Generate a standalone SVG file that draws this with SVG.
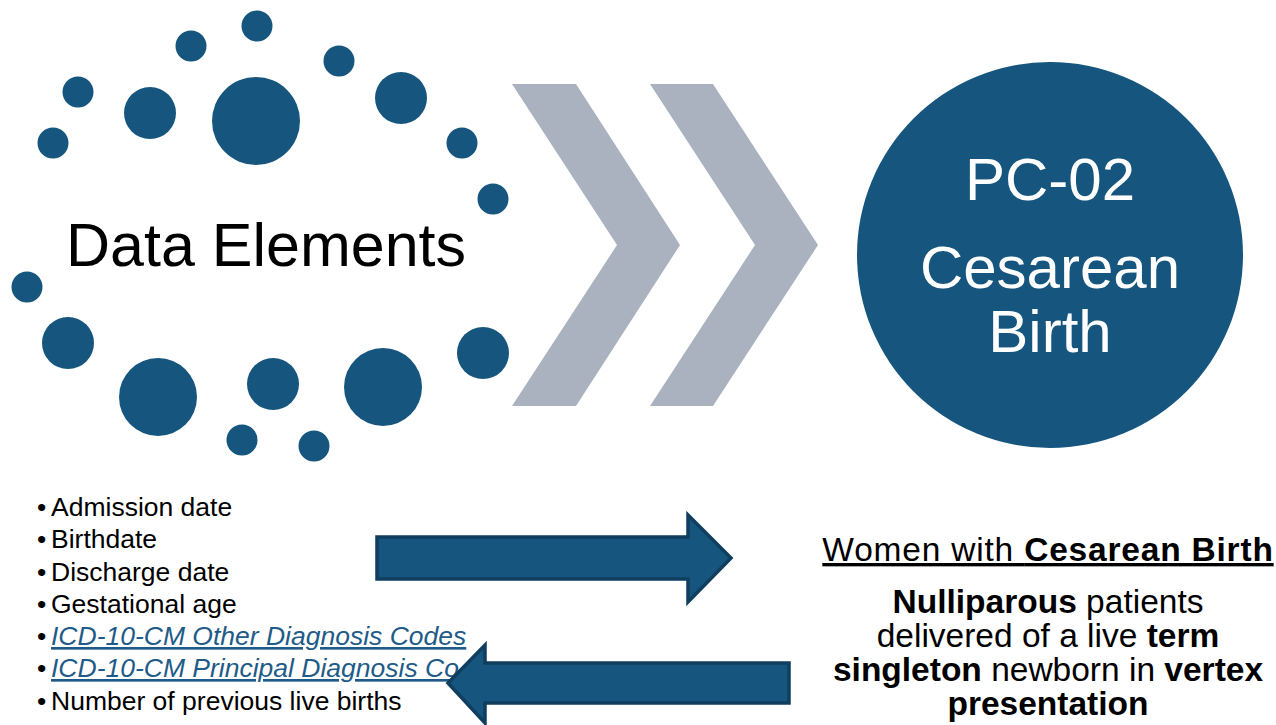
<svg xmlns="http://www.w3.org/2000/svg" width="1276" height="725" viewBox="0 0 1276 725">
<style>
.dot{fill:#16567E}
.chev{fill:#ABB2BF}
.arrow{fill:#16567E;stroke:#0F3E5E;stroke-width:3.5;stroke-linejoin:miter}
.t{font-family:"Liberation Sans",Arial,sans-serif}
.bul{font-family:"Liberation Sans",Arial,sans-serif;font-size:26.5px;fill:#000}
.link{fill:#1F5B88;font-style:italic;text-decoration:underline}
.w{font-family:"Liberation Sans",Arial,sans-serif;fill:#fff;font-size:60px;text-anchor:middle}
.r{font-family:"Liberation Sans",Arial,sans-serif;fill:#000;font-size:33.5px;text-anchor:middle}
</style>
<rect width="1276" height="725" fill="#fff"/>
<g id="data-elements">
<circle class="dot" cx="257" cy="26" r="15.5"/>
<circle class="dot" cx="191" cy="46" r="15.5"/>
<circle class="dot" cx="339" cy="61" r="15.5"/>
<circle class="dot" cx="78" cy="92" r="15.5"/>
<circle class="dot" cx="150" cy="113" r="26"/>
<circle class="dot" cx="256" cy="121" r="44"/>
<circle class="dot" cx="401" cy="98" r="26"/>
<circle class="dot" cx="53" cy="143" r="15.5"/>
<circle class="dot" cx="462" cy="143" r="15.5"/>
<circle class="dot" cx="493" cy="199" r="15.5"/>
<circle class="dot" cx="27" cy="287" r="15.5"/>
<circle class="dot" cx="68" cy="343" r="26"/>
<circle class="dot" cx="158" cy="397" r="39"/>
<circle class="dot" cx="273" cy="384" r="26"/>
<circle class="dot" cx="383" cy="387" r="39"/>
<circle class="dot" cx="483" cy="353" r="26"/>
<circle class="dot" cx="242" cy="440" r="15.5"/>
<circle class="dot" cx="314" cy="446" r="15.5"/>
<text class="t" x="266" y="266" font-size="61" text-anchor="middle" fill="#000">Data Elements</text>
</g>
<g id="chevrons">
<polygon class="chev" points="512,84 576,84 680,245 576,406 512,406 617,245"/>
<polygon class="chev" points="650,84 713,84 818,245 713,406 650,406 755,245"/>
</g>
<g id="pc02">
<circle cx="1050" cy="255" r="193" fill="#16567E"/>
<text class="w" x="1050" y="200">PC-02</text>
<text class="w" x="1050" y="288">Cesarean</text>
<text class="w" x="1050" y="352">Birth</text>
</g>
<g id="element-list">
<text class="bul" x="37" y="516">•<tspan x="51">Admission date</tspan></text>
<text class="bul" x="37" y="548">•<tspan x="51">Birthdate</tspan></text>
<text class="bul" x="37" y="581">•<tspan x="51">Discharge date</tspan></text>
<text class="bul" x="37" y="613">•<tspan x="51">Gestational age</tspan></text>
<text class="bul" x="37" y="645">•<tspan x="51" class="link">ICD-10-CM Other Diagnosis Codes</tspan></text>
<text class="bul" x="37" y="677">•<tspan x="51" class="link">ICD-10-CM Principal Diagnosis Co</tspan></text>
<text class="bul" x="37" y="710">•<tspan x="51">Number of previous live births</tspan></text>
</g>
<g id="connectors">
<polygon class="arrow" points="377,537 688,537 688,515 731,558 688,602 688,579 377,579"/>
<polygon class="arrow" points="789,663 485,663 485,645 448,683 485,723 485,703 789,703"/>
</g>
<g id="definition">
<text class="r" x="1048" y="561" font-size="31" letter-spacing="0.8" text-decoration="underline">Women with <tspan font-weight="bold">Cesarean Birth</tspan></text>
<text class="r" x="1048" y="613"><tspan font-weight="bold">Nulliparous</tspan> patients</text>
<text class="r" x="1048" y="647">delivered of a live <tspan font-weight="bold">term</tspan></text>
<text class="r" x="1048" y="681"><tspan font-weight="bold">singleton</tspan> newborn in <tspan font-weight="bold">vertex</tspan></text>
<text class="r" x="1048" y="715" font-weight="bold">presentation</text>
</g>
</svg>
